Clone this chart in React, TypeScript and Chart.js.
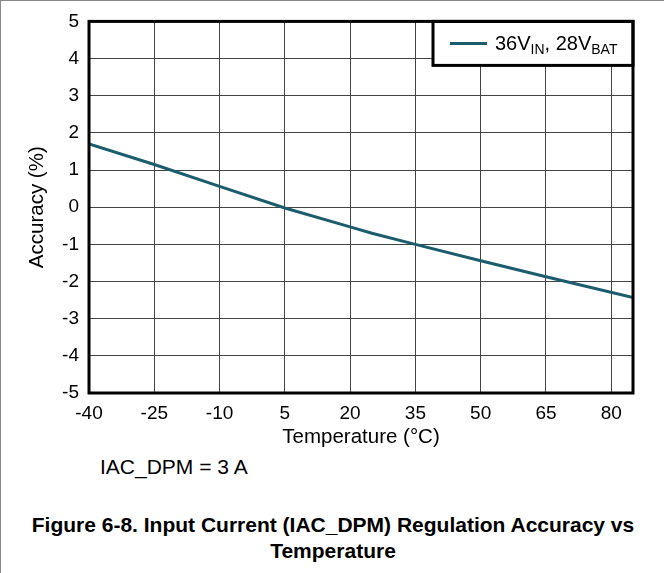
import React, { useEffect, useRef } from "react";
import { Chart, registerables } from "chart.js";

Chart.register(...registerables);

const temperatures = [-40, -25, -10, 5, 20, 25, 35, 50, 65, 85];
const accuracy = [1.7, 1.15, 0.56, -0.02, -0.53, -0.7, -1.0, -1.44, -1.87, -2.43];
const xTicks = [-40, -25, -10, 5, 20, 35, 50, 65, 80];
const yTicks = [-5, -4, -3, -2, -1, 0, 1, 2, 3, 4, 5];
const seriesColor = "#1b5d6d";
const FONT = "'Liberation Sans', Arial, sans-serif";

const framePlugin = {
  id: "frameAndLegend",
  afterDraw(chart: any) {
    const { ctx, chartArea } = chart;
    const { left, top, right, bottom } = chartArea;
    ctx.save();
    const lw = 200;
    const lh = 44;
    const lx = right - lw;
    const ly = top;
    ctx.fillStyle = "#fff";
    ctx.fillRect(lx, ly, lw, lh);
    ctx.lineWidth = 3;
    ctx.strokeStyle = "#000";
    ctx.strokeRect(lx, ly, lw, lh);
    ctx.strokeStyle = seriesColor;
    ctx.lineWidth = 3;
    ctx.beginPath();
    ctx.moveTo(lx + 17, ly + 22);
    ctx.lineTo(lx + 54, ly + 22);
    ctx.stroke();
    ctx.fillStyle = "#000";
    ctx.textBaseline = "alphabetic";
    const base = ly + 29;
    const parts: [string, boolean][] = [
      ["36V", false],
      ["IN", true],
      [", 28V", false],
      ["BAT", true],
    ];
    let x = lx + 62;
    for (const [t, sub] of parts) {
      ctx.font = sub ? `14px ${FONT}` : `20px ${FONT}`;
      ctx.fillText(t, x, sub ? base + 4 : base);
      x += ctx.measureText(t).width;
    }
    ctx.strokeStyle = "#000";
    ctx.lineWidth = 3;
    ctx.strokeRect(left, top, right - left, bottom - top);
    ctx.restore();
  },
};

export default function App() {
  const ref = useRef<HTMLCanvasElement | null>(null);

  useEffect(() => {
    if (!ref.current) return;
    const chart = new Chart(ref.current, {
      type: "line",
      data: {
        datasets: [
          {
            label: "36VIN, 28VBAT",
            data: temperatures.map((t, i) => ({ x: t, y: accuracy[i] })),
            borderColor: seriesColor,
            borderWidth: 3,
            pointRadius: 0,
            tension: 0,
            fill: false,
          },
        ],
      },
      options: {
        animation: false,
        responsive: false,
        maintainAspectRatio: false,
        layout: { padding: { left: 0, right: 31, top: 19, bottom: 0 } },
        plugins: {
          legend: { display: false },
          tooltip: { enabled: false },
        },
        scales: {
          x: {
            type: "linear",
            min: -40,
            max: 85,
            afterBuildTicks: (scale: any) => {
              scale.ticks = xTicks.map((v) => ({ value: v }));
            },
            afterFit: (scale: any) => {
              scale.height = 57;
            },
            grid: { color: "#444", lineWidth: 1, drawTicks: false },
            border: { display: false },
            ticks: {
              color: "#000",
              font: { family: FONT, size: 19 },
              padding: 9,
              maxRotation: 0,
              autoSkip: false,
            },
            title: {
              display: true,
              text: "Temperature (°C)",
              color: "#000",
              font: { family: FONT, size: 20.5 },
              padding: { top: 8, bottom: 0 },
            },
          },
          y: {
            type: "linear",
            min: -5,
            max: 5,
            afterBuildTicks: (scale: any) => {
              scale.ticks = yTicks.map((v) => ({ value: v }));
            },
            afterFit: (scale: any) => {
              scale.width = 89;
            },
            grid: { color: "#444", lineWidth: 1, drawTicks: false },
            border: { display: false },
            ticks: {
              color: "#000",
              font: { family: FONT, size: 19 },
              padding: 10,
              autoSkip: false,
            },
            title: {
              display: true,
              text: "Accuracy (%)",
              color: "#000",
              font: { family: FONT, size: 20.5 },
              padding: { top: 25, bottom: 0 },
            },
          },
        },
      },
      plugins: [framePlugin],
    });
    return () => chart.destroy();
  }, []);

  return (
    <div
      style={{
        position: "absolute",
        top: 0,
        left: 0,
        width: 664,
        height: 573,
        background: "#fff",
        borderTop: "1px solid #888",
        borderLeft: "1px solid #888",
        boxSizing: "border-box",
        fontFamily: FONT,
        overflow: "hidden",
      }}
    >
      <canvas
        ref={ref}
        width={664}
        height={450}
        style={{ position: "absolute", top: -1, left: -1, width: 664, height: 450 }}
      />
      <div
        style={{
          position: "absolute",
          left: 99,
          top: 454,
          fontSize: 21,
          color: "#000",
          whiteSpace: "nowrap",
        }}
      >
        IAC_DPM = 3 A
      </div>
      <div
        style={{
          position: "absolute",
          left: 0,
          top: 511,
          width: 664,
          textAlign: "center",
          fontSize: 21,
          fontWeight: "bold",
          lineHeight: "26px",
          color: "#000",
          whiteSpace: "nowrap",
        }}
      >
        Figure 6-8. Input Current (IAC_DPM) Regulation Accuracy vs
        <br />
        Temperature
      </div>
    </div>
  );
}
